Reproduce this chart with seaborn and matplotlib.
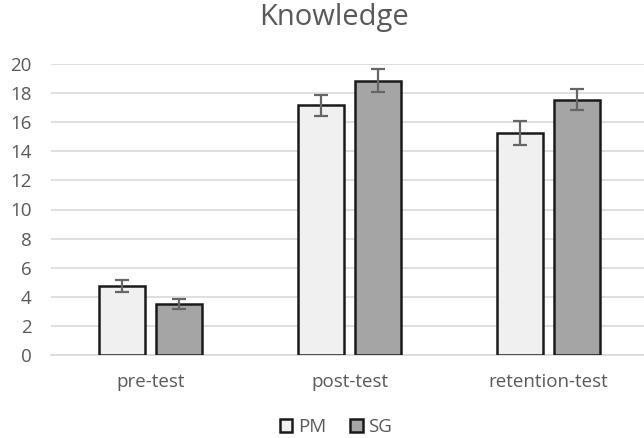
import matplotlib
matplotlib.use("Agg")
import matplotlib.pyplot as plt
import seaborn as sns
import pandas as pd
import numpy as np

categories = ["pre-test", "post-test", "retention-test"]
groups = ["PM", "SG"]
pm_means = [4.75, 17.15, 15.25]
sg_means = [3.5, 18.85, 17.55]
pm_err = [0.4, 0.75, 0.8]
sg_err = [0.33, 0.78, 0.7]
yticks = list(range(0, 21, 2))

colors = {"PM": "#F0F0F0", "SG": "#A5A5A5"}

df = pd.DataFrame({
    "test": categories * 2,
    "group": ["PM"] * 3 + ["SG"] * 3,
    "score": pm_means + sg_means,
    "err": pm_err + sg_err,
})

sns.set_style("white")
plt.rcParams["font.family"] = ["Open Sans", "DejaVu Sans"]

fig = plt.figure(figsize=(6.44, 4.38), dpi=100)
ax = fig.add_axes([51 / 644, 1 - 355 / 438, 597 / 644, (355 - 64) / 438])

sns.barplot(data=df, x="test", y="score", hue="group", order=categories,
            hue_order=groups, palette=colors, width=0.573, gap=0.21,
            errorbar=None, edgecolor="#1a1a1a", linewidth=1.8, ax=ax,
            legend=False, zorder=3)

# error bars at the bar centers
for patch_group, g in zip([ax.patches[:3], ax.patches[3:6]], groups):
    sub = df[df.group == g]
    xs = [p.get_x() + p.get_width() / 2 for p in patch_group]
    ax.errorbar(xs, sub["score"].values, yerr=sub["err"].values, fmt="none",
                ecolor="#666666", elinewidth=1.6, capsize=5, capthick=1.6,
                zorder=4)

ax.set_xlim(-0.5, 2.5)
ax.set_ylim(0, 20)
ax.set_yticks(yticks)
ax.yaxis.grid(True, color="#D9D9D9", linewidth=1.2, zorder=0)
ax.set_axisbelow(True)
for s in ["top", "right", "left"]:
    ax.spines[s].set_visible(False)
ax.spines["bottom"].set_color("#D9D9D9")
ax.spines["bottom"].set_linewidth(1.2)
ax.set_xlabel("")
ax.set_ylabel("")
ax.tick_params(axis="both", length=0, labelsize=13.5, colors="#595959")
ax.tick_params(axis="x", pad=13)
ax.tick_params(axis="y", pad=14)

fig.suptitle("Knowledge", x=334 / 644, y=1 - 3 / 438, va="top",
             fontsize=21, color="#595959")

from matplotlib.patches import Patch
handles = [Patch(facecolor=colors[g], edgecolor="#1a1a1a", linewidth=1.8, label=g)
           for g in groups]
fig.legend(handles=handles, loc="center", bbox_to_anchor=(336 / 644, 1 - 427 / 438),
           ncol=2, frameon=False, fontsize=13.5, handlelength=0.65, handleheight=0.65,
           handletextpad=0.3, columnspacing=1.3, labelcolor="#595959")

fig.savefig("out.png", dpi=100, facecolor="white")
